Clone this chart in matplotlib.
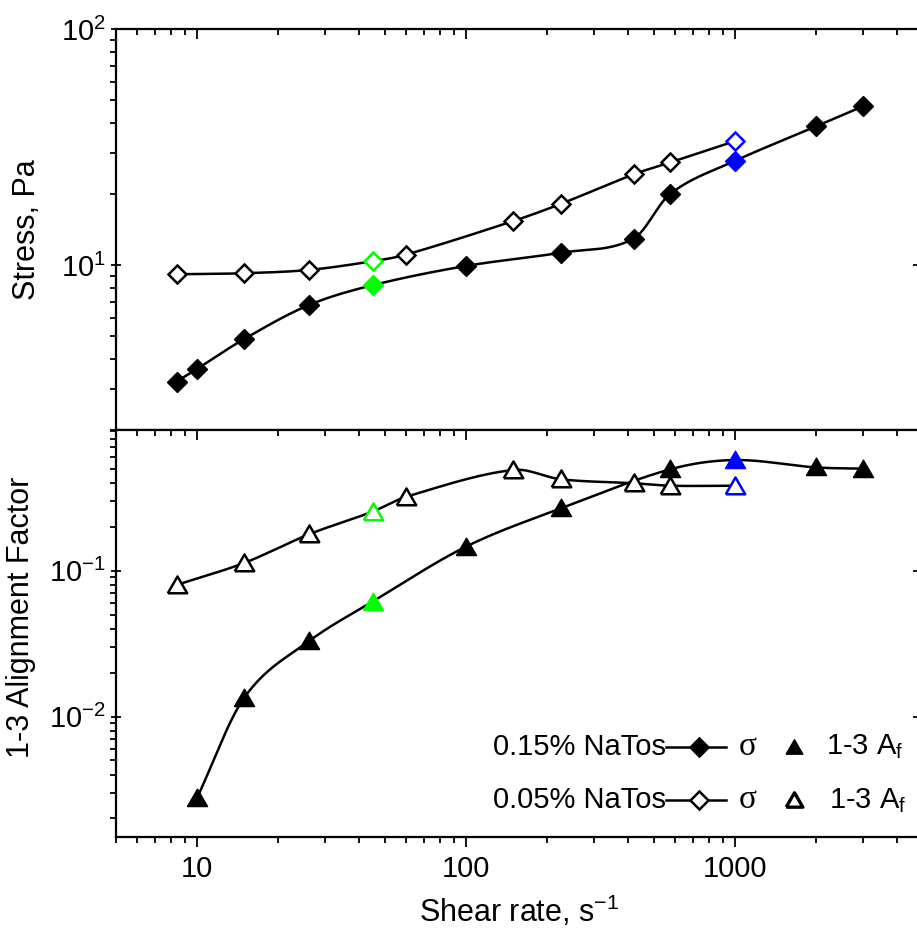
import numpy as np
import matplotlib
matplotlib.use('Agg')
import matplotlib.pyplot as plt
from matplotlib.ticker import LogLocator, FixedLocator, FixedFormatter, NullFormatter

plt.rcParams['font.family'] = ['Liberation Sans', 'DejaVu Sans']
plt.rcParams['mathtext.fontset'] = 'custom'
plt.rcParams['mathtext.rm'] = 'Liberation Sans'
plt.rcParams['mathtext.it'] = 'Liberation Sans:italic'
plt.rcParams['axes.unicode_minus'] = False

# ---------------- data ----------------
rate_hi_stress = [8.4, 10, 15, 26, 45, 100, 225, 420, 575, 1000, 2000, 3000]
stress_hi = [3.21, 3.63, 4.87, 6.77, 8.23, 9.93, 11.3, 12.97, 20.1, 27.7, 38.8, 47.3]

rate_lo_stress = [8.4, 15, 26, 45, 60, 150, 225, 420, 575, 1000]
stress_lo = [9.16, 9.25, 9.55, 10.4, 11.1, 15.4, 18.2, 24.3, 27.3, 33.6]

rate_hi_af = [10, 15, 26, 45, 100, 225, 575, 1000, 2000, 3000]
af_hi = [0.00276, 0.0135, 0.0327, 0.0614, 0.146, 0.267, 0.495, 0.573, 0.51, 0.50]

rate_lo_af = [8.4, 15, 26, 45, 60, 150, 225, 420, 575, 1000]
af_lo = [0.0798, 0.113, 0.177, 0.254, 0.321, 0.490, 0.423, 0.397, 0.382, 0.382]

highlight = {45: '#00FF00', 1000: '#0000FF'}

x_ticks = [10, 100, 1000]
x_ticklabels = ['10', '100', '1000']


def smooth_curve(x, y, xs):
    """Catmull-Rom style cubic Hermite through the points (centred tangents)."""
    n = len(x)
    m = np.zeros(n)
    m[0] = (y[1] - y[0]) / (x[1] - x[0])
    m[-1] = (y[-1] - y[-2]) / (x[-1] - x[-2])
    for i in range(1, n - 1):
        m[i] = (y[i + 1] - y[i - 1]) / (x[i + 1] - x[i - 1])
    idx = np.clip(np.searchsorted(x, xs) - 1, 0, n - 2)
    h = x[idx + 1] - x[idx]
    t = (xs - x[idx]) / h
    h00 = 2 * t ** 3 - 3 * t ** 2 + 1
    h10 = t ** 3 - 2 * t ** 2 + t
    h01 = -2 * t ** 3 + 3 * t ** 2
    h11 = t ** 3 - t ** 2
    return h00 * y[idx] + h10 * h * m[idx] + h01 * y[idx + 1] + h11 * h * m[idx + 1]


TRI = [(-1, -0.8), (1, -0.8), (0, 0.93), (-1, -0.8)]


def draw_series(ax, xs, ys, marker, filled, ms):
    lx = np.log10(np.array(xs, float))
    ly = np.log10(np.array(ys, float))
    t = np.linspace(lx[0], lx[-1], 500)
    ax.plot(10 ** t, 10 ** smooth_curve(lx, ly, t), color='black', lw=1.8, zorder=2)
    for x, y in zip(xs, ys):
        col = highlight.get(x, 'black')
        ax.plot([x], [y], linestyle='none', marker=marker, ms=ms,
                markerfacecolor=col if filled else 'white',
                markeredgecolor=col, markeredgewidth=1.8 if not filled else 1.0,
                zorder=3, clip_on=False)


fig = plt.figure(figsize=(9.17, 9.30), dpi=100)
ax1 = fig.add_axes([0.1265, 0.5376, 0.8800, 0.4307])
ax2 = fig.add_axes([0.1265, 0.1003, 0.8800, 0.4373])

draw_series(ax1, rate_hi_stress, stress_hi, 'D', True, 10)
draw_series(ax1, rate_lo_stress, stress_lo, 'D', False, 9.5)
draw_series(ax2, rate_hi_af, af_hi, TRI, True, 14.5)
draw_series(ax2, rate_lo_af, af_lo, TRI, False, 14)

for ax in (ax1, ax2):
    ax.set_xscale('log')
    ax.set_yscale('log')
    ax.set_xlim(5, 5000)
    for s in ax.spines.values():
        s.set_linewidth(1.6)
    ax.xaxis.set_major_locator(FixedLocator(x_ticks))
    ax.xaxis.set_minor_locator(LogLocator(base=10, subs=np.arange(2, 10), numticks=20))
    ax.yaxis.set_minor_locator(LogLocator(base=10, subs=np.arange(2, 10), numticks=20))
    ax.yaxis.set_minor_formatter(NullFormatter())
    ax.xaxis.set_minor_formatter(NullFormatter())
    ax.tick_params(axis='y', which='major', direction='out', length=7, width=1.3,
                   labelsize=21, pad=4, left=True)
    ax.tick_params(axis='y', which='minor', direction='out', length=4.5, width=1.3, left=True, right=False)
    ax.tick_params(axis='y', which='major', right=True, direction='inout')

ax1.set_ylim(2, 100)
ax2.set_ylim(0.0015, 0.92)

# right-side major ticks inward only
for ax in (ax1, ax2):
    for tk in ax.yaxis.get_major_ticks():
        tk.tick2line.set_marker(0)
        tk.tick2line.set_markersize(7)
        tk.tick2line.set_markeredgewidth(1.3)

# top axes: x ticks on top inward, none at bottom
ax1.tick_params(axis='x', which='both', direction='in', top=True, bottom=False,
                labelbottom=False, labeltop=False)
ax1.tick_params(axis='x', which='major', length=7, width=1.3)
ax1.tick_params(axis='x', which='minor', length=4, width=1.3)

# bottom axes: top ticks inward, bottom ticks outward
ax2.tick_params(axis='x', which='both', top=True, bottom=True, labelsize=21, pad=6)
ax2.tick_params(axis='x', which='major', length=7, width=1.3)
ax2.tick_params(axis='x', which='minor', length=4, width=1.3)
for tk in ax2.xaxis.get_major_ticks() + ax2.xaxis.get_minor_ticks():
    tk.tick1line.set_marker(3)
    tk.tick2line.set_marker(3)
ax2.xaxis.set_major_formatter(FixedFormatter(x_ticklabels))

ax1.set_ylabel('Stress, Pa', fontsize=22)
ax1.yaxis.set_label_coords(-0.092, 0.5)
ax2.set_ylabel('1-3 Alignment Factor', fontsize=22)
ax2.yaxis.set_label_coords(-0.099, 0.54)
ax2.set_xlabel('Shear rate, s$^{-1}$', fontsize=22, labelpad=8)

# ---------------- legend (custom) ----------------
tr = ax2.transAxes
rows = [(0.221, True, '0.15% NaTos'), (0.090, False, '0.05% NaTos')]
for yy, filled, label in rows:
    ax2.text(0.6815, yy, label, transform=tr, ha='right', va='center', fontsize=21)
    ax2.plot([0.6815, 0.7559], [yy, yy], transform=tr, color='black', lw=1.8, clip_on=False)
    ax2.plot([0.7224], [yy], transform=tr, marker='D', ms=9.5,
             markerfacecolor='black' if filled else 'white', markeredgecolor='black',
             markeredgewidth=1.8, clip_on=False)
    ax2.text(0.783, yy, 'σ', transform=tr, ha='center', va='center', fontsize=24,
             family=['Liberation Serif', 'DejaVu Serif'])
    ax2.plot([0.840], [yy], transform=tr, marker=TRI, ms=12,
             markerfacecolor='black' if filled else 'white', markeredgecolor='black',
             markeredgewidth=2.4 if not filled else 1.0, clip_on=False)
    ax2.text(0.880 if filled else 0.884, yy, '1-3 A$_\\mathrm{f}$', transform=tr,
             ha='left', va='center', fontsize=21)

fig.savefig('out.png', dpi=100)
